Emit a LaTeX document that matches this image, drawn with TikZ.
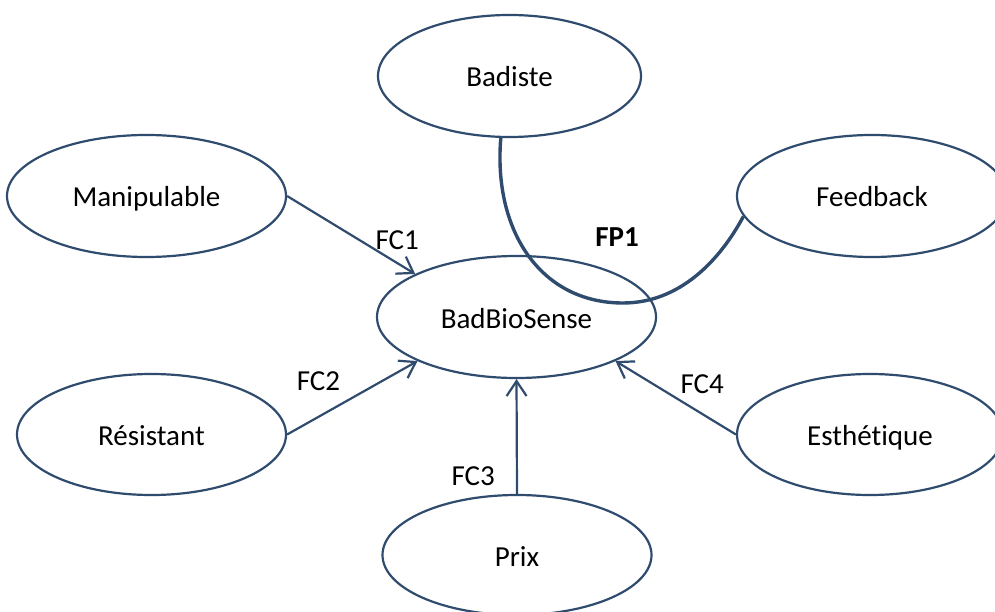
\documentclass[tikz,border=0pt]{standalone}
\usepackage{fontspec}
\setmainfont{Carlito}[Ligatures=NoCommon]
\usetikzlibrary{positioning, arrows.meta, shapes.geometric}
\definecolor{trait}{HTML}{2F4B6E}

\begin{document}
\begin{tikzpicture}[x=1pt, y=-1pt, ->, >={Straight Barb[length=15pt, width=20pt]},
    line width=2.2pt, font=\fontsize{29}{35}\selectfont,
    every edge/.append style={draw=trait},
    bulle/.style={ellipse, draw=trait, minimum height=122pt, inner sep=0pt,
      text height=22pt, text depth=0pt},
    etiq/.style={inner sep=0pt, text height=18pt, text depth=0pt}]
  \useasboundingbox (0,0) rectangle (995,612);

  \node[bulle, minimum width=279pt] (bbs) at (516.5,317) {BadBioSense};
  \node[bulle, minimum width=263pt] (badiste) at (509.5,76) {Badiste};
  \node[bulle, minimum width=279pt] (manip) at (146.5,196) {Manipulable};
  \node[bulle, minimum width=270pt] (feedback) at (872,196) {Feedback};
  \node[bulle, minimum width=269pt, minimum height=121pt] (resist) at (151.5,434.5) {Résistant};
  \node[bulle, minimum width=266pt, minimum height=121pt] (esth) at (870,434.5) {Esthétique};
  \node[bulle, minimum width=269pt, minimum height=120pt] (prix) at (517,555) {Prix};

  \path (manip.east) edge node[etiq, pos=0.86, above=12pt] (fc1) {FC1} (bbs.157)
        (resist.east) edge node[etiq, pos=0.24, above=25pt] (fc2) {FC2} (bbs.204)
        (prix.north) edge node[etiq, pos=0.15, left=21pt] (fc3) {FC3} (bbs.south)
        (esth.west) edge node[etiq, pos=0.28, above=19pt] (fc4) {FC4} (bbs.336);

  % fonction principale
  \draw[-, draw=trait, line width=3.4pt] (badiste.262) .. controls (493,230) and (540,303) .. (623,303)
        .. controls (680,303) and (720,260) .. (feedback.189);
  \node[etiq, font=\fontsize{29}{35}\selectfont\bfseries] (fp1) at (617,238) {FP1};
\end{tikzpicture}
\end{document}
